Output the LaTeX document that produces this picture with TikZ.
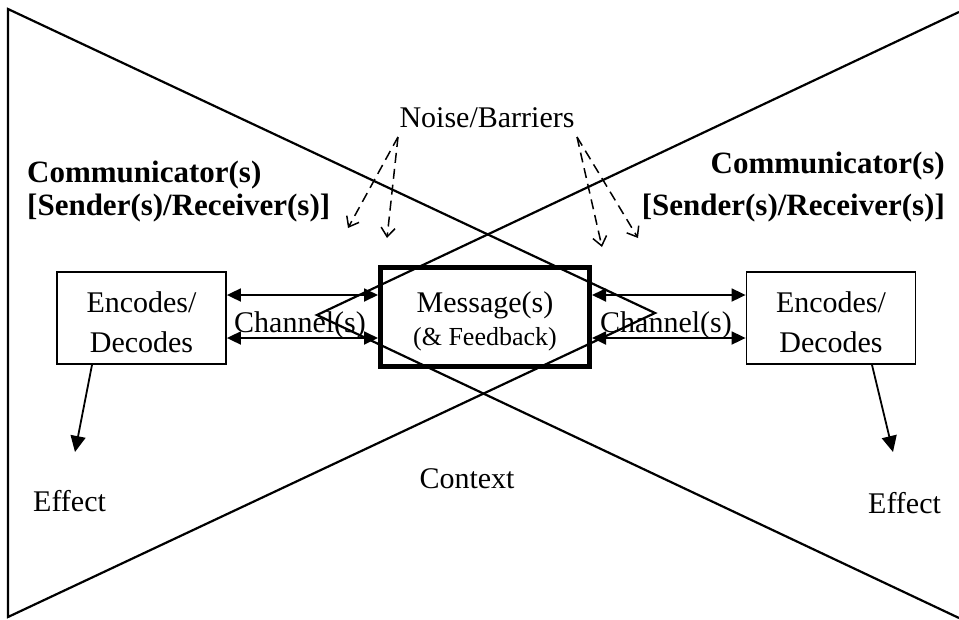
\documentclass[tikz,border=0pt]{standalone}
\usepackage{fontspec}
\setmainfont{Liberation Serif}
\usetikzlibrary{arrows.meta}
\tikzset{
  frame/.style={line width=2.2pt, line join=miter},
  box/.style={draw, line width=1.8pt, minimum width=169pt, minimum height=92pt,
    inner sep=0pt, align=center, font=\fontsize{30}{40}\selectfont},
  msgbox/.style={draw, line width=5pt, minimum width=209pt, minimum height=99pt,
    inner sep=0pt, align=center, font=\fontsize{30}{33}\selectfont},
  txt/.style={inner sep=0pt, font=\fontsize{30}{36}\selectfont},
  btxt/.style={inner sep=0pt, font=\fontsize{31}{36}\selectfont\bfseries},
  tip/.tip={Triangle[length=14pt,width=13pt]},
  bigtip/.tip={Triangle[length=16pt,width=15pt]},
  dbl/.style={line width=1.8pt, tip-tip},
  effarrow/.style={line width=1.8pt, -bigtip},
  noisearrow/.style={line width=1.5pt, dash pattern=on 10pt off 6pt,
    -{Straight Barb[length=9pt,width=14pt]}}
}
\begin{document}
\begin{tikzpicture}[x=1pt,y=-1pt]
\useasboundingbox (0,0) rectangle (959,619);
% the two triangles (context)
\draw[frame] (8,617) -- (8,9) -- (655,313) -- cycle;
\draw[frame] (959,12) -- (317,315) -- (959,618);

% boxes
\node[box] (lbox) at (141.5,318) {\rule{0pt}{30pt}Encodes/\\Decodes};
\node[box] (rbox) at (831,318) {\rule{0pt}{30pt}Encodes/\\Decodes};
\node[msgbox] (msg) at (485,317) {\rule{0pt}{30pt}Message(s)\\{\fontsize{26}{33}\selectfont(\& Feedback)}};

% channels
\draw[dbl] (lbox.east |- 0,295) -- (msg.west |- 0,295);
\draw[dbl] (lbox.east |- 0,338) -- (msg.west |- 0,338);
\draw[dbl] (msg.east |- 0,295) -- (rbox.west |- 0,295);
\draw[dbl] (msg.east |- 0,338) -- (rbox.west |- 0,338);
\node[txt, anchor=base] (ch1) at (300,332) {Channel(s)};
\node[txt, anchor=base] (ch2) at (666,332) {Channel(s)};

% labels
\node[txt, anchor=base, inner sep=1pt] (noise) at (487,127) {Noise/Barriers};
\node[btxt, anchor=base west] (c1a) at (27,182) {Communicator(s)};
\node[btxt, anchor=base west] (c1b) at (27,215) {[Sender(s)/Receiver(s)]};
\node[btxt, anchor=base east] (c2a) at (945,173) {Communicator(s)};
\node[btxt, anchor=base east] (c2b) at (945,215) {[Sender(s)/Receiver(s)]};
\node[txt, anchor=base] (ctx) at (467,488) {Context};
\node[txt, anchor=base west] (eff1) at (33,511) {Effect};
\node[txt, anchor=base west] (eff2) at (868,513) {Effect};

% noise arrows
\coordinate (n1) at (348,228);
\coordinate (n2) at (387,238);
\coordinate (n3) at (602,247);
\coordinate (n4) at (638,238);
\coordinate (ns1) at (398,137);
\coordinate (ns2) at (577,137);
\draw[noisearrow] (ns1) -- (n1);
\draw[noisearrow] (ns1) -- (n2);
\draw[noisearrow] (ns2) -- (n3);
\draw[noisearrow] (ns2) -- (n4);

% effect arrows
\coordinate (e1) at (75,452);
\coordinate (e2) at (893,452);
\draw[effarrow] (lbox.south -| 92,0) -- (e1);
\draw[effarrow] (rbox.south -| 872,0) -- (e2);
\end{tikzpicture}
\end{document}
